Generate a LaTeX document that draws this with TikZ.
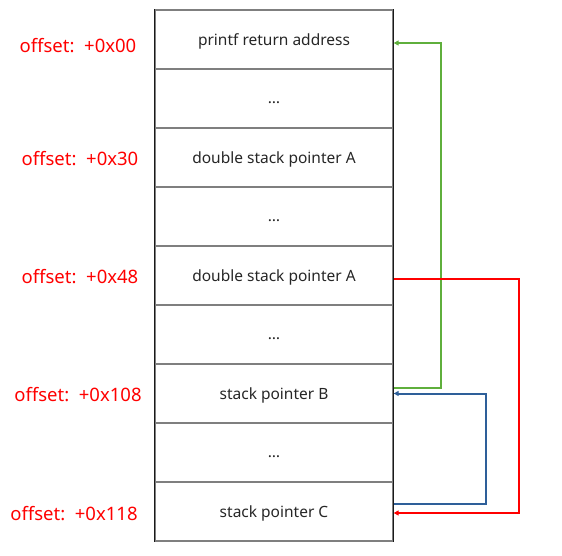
\documentclass[tikz,border=0pt]{standalone}
\usepackage{fontspec}
\setmainfont{Noto Sans}
\usetikzlibrary{arrows.meta}
\definecolor{offred}{HTML}{FF0000}
\definecolor{offgreen}{HTML}{5FAF3C}
\definecolor{offblue}{HTML}{2E5F99}
\definecolor{divgray}{HTML}{7F7F7F}
\begin{document}
\begin{tikzpicture}[x=1pt,y=-1pt,
  cell/.style={draw=divgray,line width=1.3pt,minimum width=238pt,minimum height=59pt,inner sep=0pt,font=\fontsize{15.5}{18}\selectfont,text=black!85},
  celltext/.style={inner sep=0pt,font=\fontsize{15.5}{18}\selectfont,text=black!85},
  offlabel/.style={text=offred,font=\fontsize{18.5}{21}\selectfont,inner sep=0pt},
  link/.style={line width=2pt,-{Triangle[length=5pt,width=5pt]}}
]
\useasboundingbox (0,0) rectangle (562,555);
\node[cell] (r1) at (274,39.5) {};
\node[cell] (r2) at (274,98.5) {};
\node[cell] (r3) at (274,157.5) {};
\node[cell] (r4) at (274,216.5) {};
\node[cell] (r5) at (274,275.5) {};
\node[cell] (r6) at (274,334.5) {};
\node[cell] (r7) at (274,393.5) {};
\node[cell] (r8) at (274,452.5) {};
\node[cell] (r9) at (274,511.5) {};
\node[celltext] (t1) at ([yshift=-1.5pt]r1.center) {printf return address};
\node[celltext] (t2) at ([yshift=-4pt]r2.center) {\dots};
\node[celltext] (t3) at ([yshift=-1.5pt]r3.center) {double stack pointer A};
\node[celltext] (t4) at ([yshift=-4pt]r4.center) {\dots};
\node[celltext] (t5) at ([yshift=-1.5pt]r5.center) {double stack pointer A};
\node[celltext] (t6) at ([yshift=-4pt]r6.center) {\dots};
\node[celltext] (t7) at ([yshift=-1.5pt]r7.center) {stack pointer B};
\node[celltext] (t8) at ([yshift=-4pt]r8.center) {\dots};
\node[celltext] (t9) at ([yshift=-1.5pt]r9.center) {stack pointer C};
\draw[black!90,line width=1.3pt] (r1.north west) -- (r9.south west);
\draw[black!90,line width=1.3pt] (r1.north east) -- (r9.south east);
\node[offlabel] (o1) at (78,46) {offset:\ \ +0x00};
\node[offlabel] (o3) at (80,159) {offset:\ \ +0x30};
\node[offlabel] (o5) at (80,277) {offset:\ \ +0x48};
\node[offlabel] (o7) at (78,395) {offset:\ \ +0x108};
\node[offlabel] (o9) at (74,514) {offset:\ \ +0x118};
\draw[link,offgreen] ([yshift=5.5pt]r7.east) -- ++(47,0) |- ([yshift=-3.5pt]r1.east);
\draw[link,offred] ([yshift=-3.5pt]r5.east) -- ++(125,0) |- ([yshift=-1.5pt]r9.east);
\draw[link,offblue] ([yshift=7.5pt]r9.east) -- ++(92,0) |- (r7.east);
\end{tikzpicture}
\end{document}
